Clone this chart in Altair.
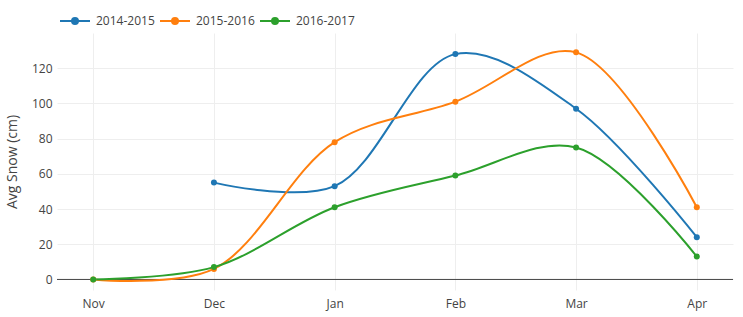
import altair as alt
import pandas as pd

months = ["Nov", "Dec", "Jan", "Feb", "Mar", "Apr"]
seasons = ["2014-2015", "2015-2016", "2016-2017"]
s1415 = [None, 55, 53, 128, 97, 24]
s1516 = [0, 6, 78, 101, 129, 41]
s1617 = [0, 7, 41, 59, 75, 13]
colors = ["#1f77b4", "#ff7f0e", "#2ca02c"]

rows = []
for season, vals in zip(seasons, [s1415, s1516, s1617]):
    for m, v in zip(months, vals):
        if v is not None:
            rows.append({"month": m, "snow": v, "season": season})
df = pd.DataFrame(rows)

FONT = "Open Sans"
TXT = "#444444"

x = alt.X("month:N", sort=months, title=None,
          scale=alt.Scale(type="point", padding=0.3),
          axis=alt.Axis(labelAngle=0, domain=False, ticks=False, grid=True,
                        gridColor="#eeeeee", labelPadding=8))
y = alt.Y("snow:Q", title="Avg Snow (cm)",
          scale=alt.Scale(domain=[-6, 140], nice=False, zero=False),
          axis=alt.Axis(values=[0, 20, 40, 60, 80, 100, 120], domain=False,
                        ticks=False, grid=True, gridColor="#eeeeee",
                        labelPadding=5, titlePadding=12))
color = alt.Color("season:N", sort=seasons,
                  scale=alt.Scale(domain=seasons, range=colors),
                  legend=alt.Legend(title=None, orient="none", direction="horizontal",
                                    legendX=2, legendY=-28,
                                    symbolType="M-1,0H1M0.2,0A0.2,0.2 0 1 1 -0.2,0A0.2,0.2 0 1 1 0.2,0",
                                    symbolSize=900, symbolStrokeWidth=2,
                                    labelFontSize=12, labelColor=TXT, labelFont=FONT,
                                    columnPadding=1, labelOffset=5))

base = alt.Chart(df)
lines = base.mark_line(interpolate="catmull-rom", strokeWidth=2).encode(x=x, y=y, color=color)
points = base.mark_point(filled=True, size=36, opacity=1).encode(x=x, y=y, color=color)
zero = alt.Chart(pd.DataFrame({"z": [0]})).mark_rule(color="#444444", strokeWidth=1).encode(
    y=alt.Y("z:Q", scale=alt.Scale(domain=[-6, 140], nice=False, zero=False)))

chart = alt.layer(zero, lines, points).properties(
    width=676, height=257,
    autosize=alt.AutoSizeParams(type="none"),
    padding={"left": 57, "top": 33, "right": 10, "bottom": 27},
).configure_view(stroke=None).configure_axis(
    labelFont=FONT, labelFontSize=12, labelColor=TXT,
    titleFont=FONT, titleFontSize=14, titleColor=TXT, titleFontWeight="normal",
)

chart.save("out.html", embed_options={"renderer": "svg", "actions": False})
